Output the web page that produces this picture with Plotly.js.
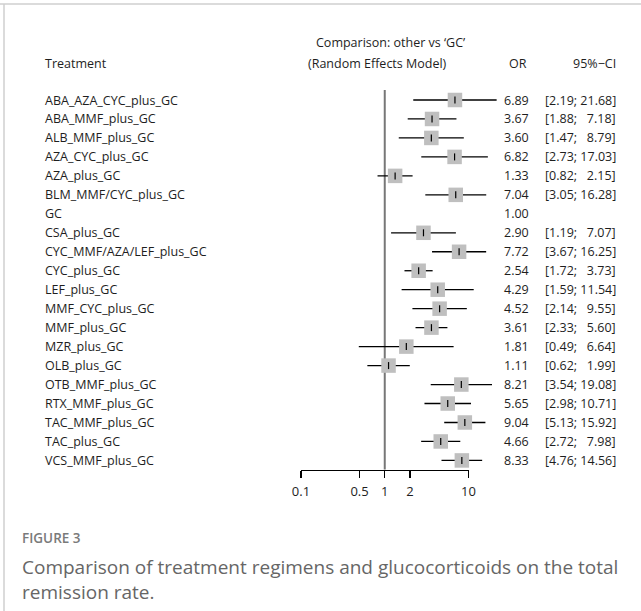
<!DOCTYPE html>
<html>
<head>
<meta charset="utf-8">
<script src="https://cdn.plot.ly/plotly-3.0.1.min.js"></script>
<style>
  html, body { margin: 0; padding: 0; background: #fff; }
  #chart { width: 641px; height: 611px; }
</style>
</head>
<body>
<div id="chart"></div>
<script>
// ---- data ----
const treatments = [
  "ABA_AZA_CYC_plus_GC", "ABA_MMF_plus_GC", "ALB_MMF_plus_GC", "AZA_CYC_plus_GC",
  "AZA_plus_GC", "BLM_MMF/CYC_plus_GC", "GC", "CSA_plus_GC",
  "CYC_MMF/AZA/LEF_plus_GC", "CYC_plus_GC", "LEF_plus_GC", "MMF_CYC_plus_GC",
  "MMF_plus_GC", "MZR_plus_GC", "OLB_plus_GC", "OTB_MMF_plus_GC",
  "RTX_MMF_plus_GC", "TAC_MMF_plus_GC", "TAC_plus_GC", "VCS_MMF_plus_GC"
];
const orValues = [6.89, 3.67, 3.60, 6.82, 1.33, 7.04, 1.00, 2.90, 7.72, 2.54,
                  4.29, 4.52, 3.61, 1.81, 1.11, 8.21, 5.65, 9.04, 4.66, 8.33];
const ciLower = [2.19, 1.88, 1.47, 2.73, 0.82, 3.05, null, 1.19, 3.67, 1.72,
                 1.59, 2.14, 2.33, 0.49, 0.62, 3.54, 2.98, 5.13, 2.72, 4.76];
const ciUpper = [21.68, 7.18, 8.79, 17.03, 2.15, 16.28, null, 7.07, 16.25, 3.73,
                 11.54, 9.55, 5.60, 6.64, 1.99, 19.08, 10.71, 15.92, 7.98, 14.56];
const tickVals = [0.1, 0.5, 1, 2, 10];
const tickText = ["0.1", "0.5", "1", "2", "10"];

// ---- geometry (pixels) ----
const W = 641, H = 611;
const X_LO_PX = 301, X_HI_PX = 468.5;     // pixel of 0.1 and 10
const pxPerDec = (X_HI_PX - X_LO_PX) / 2;
const xr0 = -1 - X_LO_PX / pxPerDec;
const xr1 = xr0 + W / pxPerDec;
const ROW0 = 100, ROWSTEP = 18.97;
const yTop = 1 - ROW0 / ROWSTEP;
const yBot = 1 + (H - ROW0) / ROWSTEP;
const AXIS_Y = 469.5;
const px = v => v / W;
const py = v => 1 - v / H;

const rows = treatments.map((_, i) => i + 1);
const txtFont = "Open Sans, Noto Sans, sans-serif";
const txtColor = "#1e1e1e";
const fs = 12.5;
const CI_RIGHT = 618;

// CI segments
const ciX = [], ciY = [];
ciLower.forEach((lo, i) => {
  if (lo == null) return;
  ciX.push(lo, ciUpper[i], null);
  ciY.push(rows[i], rows[i], null);
});
const ptX = orValues.map((v, i) => ciLower[i] == null ? null : v);

const traces = [
  { type: "scatter", mode: "lines", x: ciX, y: ciY,
    line: { color: "#000", width: 1.3 }, hoverinfo: "skip", showlegend: false },
  { type: "scatter", mode: "markers", x: ptX, y: rows,
    marker: { symbol: "square", size: 14.5, color: "#bfbfbf", line: { width: 0 } },
    showlegend: false },
  { type: "scatter", mode: "markers", x: ptX, y: rows,
    marker: { symbol: "line-ns", size: 5, color: "#000", line: { color: "#000", width: 1.2 } },
    hoverinfo: "skip", showlegend: false },
  { type: "scatter", mode: "markers", x: [1], y: [null], xaxis: "x2", yaxis: "y",
    hoverinfo: "skip", showlegend: false }
];

const ann = [];
const A = (o) => ann.push(Object.assign({ showarrow: false, font: { family: txtFont, size: fs, color: txtColor } }, o));

// headers
A({ text: "Treatment", xref: "paper", yref: "paper", x: px(43), y: py(64), xanchor: "left", yanchor: "middle" });
A({ text: "Comparison: other vs \u2018GC\u2019", xref: "paper", yref: "paper", x: px(314), y: py(42.5), xanchor: "left", yanchor: "middle" });
A({ text: "(Random Effects Model)", xref: "paper", yref: "paper", x: px(306), y: py(64), xanchor: "left", yanchor: "middle" });
A({ text: "OR", xref: "paper", yref: "paper", x: px(529), y: py(64), xanchor: "right", yanchor: "middle" });
A({ text: "95%\u2212CI", xref: "paper", yref: "paper", x: px(CI_RIGHT), y: py(64), xanchor: "right", yanchor: "middle" });

treatments.forEach((t, i) => {
  A({ text: t, xref: "paper", yref: "y", x: px(43), y: rows[i], xanchor: "left", yanchor: "middle" });
  A({ text: orValues[i].toFixed(2), xref: "paper", yref: "y", x: px(531), y: rows[i], xanchor: "right", yanchor: "middle" });
  if (ciLower[i] != null) {
    const up = ciUpper[i].toFixed(2);
    const s = "[" + ciLower[i].toFixed(2) + ";\u00a0" + (ciUpper[i] < 10 ? "\u00a0\u00a0" : "") + up + "]";
    A({ text: s, xref: "paper", yref: "y", x: px(CI_RIGHT), y: rows[i], xanchor: "right", yanchor: "middle" });
  }
});

// caption
A({ text: "FIGURE 3", xref: "paper", yref: "paper", x: px(20), y: py(538), xanchor: "left", yanchor: "middle",
    font: { family: txtFont, size: 13.5, color: "#7a7a7a", weight: 600 } });
A({ text: "Comparison of treatment regimens and glucocorticoids on the total", xref: "paper", yref: "paper",
    x: px(20), y: py(567), xanchor: "left", yanchor: "middle",
    font: { family: txtFont, size: 19, color: "#666" } });
A({ text: "remission rate.", xref: "paper", yref: "paper",
    x: px(20), y: py(592), xanchor: "left", yanchor: "middle",
    font: { family: txtFont, size: 19, color: "#666" } });

const layout = {
  width: W, height: H,
  margin: { l: 0, r: 0, t: 0, b: 0, pad: 0 },
  paper_bgcolor: "#fff", plot_bgcolor: "rgba(0,0,0,0)",
  showlegend: false,
  xaxis: { type: "log", range: [xr0, xr1], domain: [0, 1], visible: false, fixedrange: true },
  xaxis2: { type: "log", range: [-1, 1], domain: [px(X_LO_PX), px(X_HI_PX)], anchor: "free", position: py(AXIS_Y),
            tickvals: tickVals, ticktext: tickText, ticks: "outside", ticklen: 7, tickwidth: 1.3, tickcolor: "#000",
            ticklabelstandoff: 3,
            showline: true, linecolor: "#000", linewidth: 1.3, showgrid: false, zeroline: false,
            tickfont: { family: txtFont, size: 13, color: txtColor }, fixedrange: true },
  yaxis: { range: [yBot, yTop], domain: [0, 1], visible: false, fixedrange: true },
  shapes: [
    { type: "line", layer: "below", xref: "x", yref: "paper", x0: 1, x1: 1, y0: py(AXIS_Y), y1: py(90),
      line: { color: "#777", width: 2 } },
    { type: "line", xref: "paper", yref: "paper", x0: 0, x1: 1, y0: py(4), y1: py(4),
      line: { color: "#cfcfcf", width: 1.5 } },
    { type: "line", xref: "paper", yref: "paper", x0: px(4), x1: px(4), y0: 0, y1: py(4),
      line: { color: "#cfcfcf", width: 1.5 } }
  ],
  annotations: ann
};

Plotly.newPlot("chart", traces, layout, { displayModeBar: false, staticPlot: true });
</script>
</body>
</html>
